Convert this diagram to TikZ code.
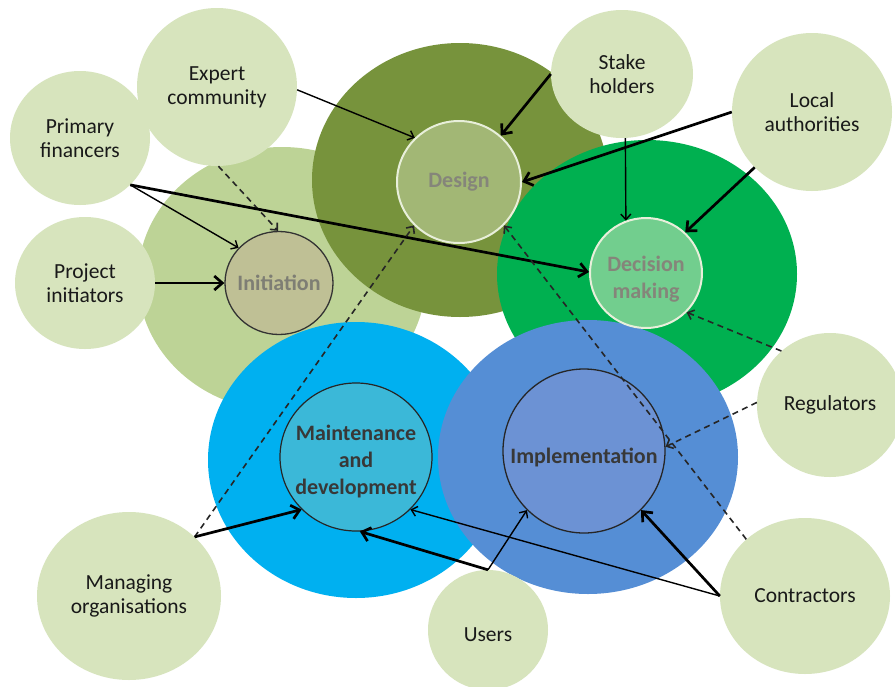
\documentclass[tikz,border=0pt]{standalone}
\usepackage{fontspec}
\setmainfont{Carlito}
\usetikzlibrary{arrows.meta,shapes.geometric}
\definecolor{outerc}{HTML}{D7E4BD}
\definecolor{initbig}{HTML}{BDD396}
\definecolor{designbig}{HTML}{77933C}
\definecolor{decbig}{HTML}{00B050}
\definecolor{maintbig}{HTML}{00B0F0}
\definecolor{implbig}{HTML}{558ED5}
\definecolor{initsm}{HTML}{BFC095}
\definecolor{designsm}{HTML}{A2B775}
\definecolor{decsm}{HTML}{72CE8E}
\definecolor{maintsm}{HTML}{3BB8D8}
\definecolor{implsm}{HTML}{6C92D4}
\definecolor{palerim}{HTML}{E8EFDA}
\definecolor{graytext}{HTML}{85857A}
\begin{document}
\begin{tikzpicture}[x=1pt,y=-1pt,
  blob/.style={ellipse, inner sep=0pt, draw=none},
  outer/.style={blob, fill=outerc, align=center, text=black!90,
    font=\fontsize{21.5}{24}\selectfont},
  outertxt/.style={align=center, inner sep=0pt, text=black!90,
    font=\fontsize{21.5}{24}\selectfont},
  innertxt/.style={align=center, inner sep=0pt, font=\bfseries\fontsize{22}{27}\selectfont},
  thickarr/.style={line width=2.7pt, -{Straight Barb[length=8pt,width=14pt]}},
  thinarr/.style={line width=1.4pt, -{Straight Barb[length=5.5pt,width=10pt]}},
  dasharr/.style={line width=1.6pt, black!85, dash pattern=on 6pt off 4.5pt, -{Straight Barb[length=5.5pt,width=10pt]}}
]
\useasboundingbox (0,0) rectangle (895,686);
\fill[white] (0,0) rectangle (895,686);

% big circles
\node[blob, fill=initbig, minimum width=288pt, minimum height=264pt] (initB) at (282,279) {};
\node[blob, fill=designbig, minimum width=296pt, minimum height=274pt] (designB) at (460,180) {};
\node[blob, fill=decbig, minimum width=300pt, minimum height=268pt] (decB) at (647,274) {};
\node[blob, fill=maintbig, minimum width=296pt, minimum height=276pt] (maintB) at (356,460) {};
\node[blob, fill=implbig, minimum width=300pt, minimum height=274pt] (implB) at (588,457) {};

% outer stakeholder circles
\node[outer, minimum width=140pt, minimum height=134pt] (prim) at (80,138) {Primary\\financers};
\node[outer, minimum width=160pt, minimum height=158pt] (expert) at (217,87) {Expert\\community};
\node[outer, minimum width=140pt, minimum height=132pt] (proj) at (85,283) {Project\\initiators};
\node[outer, minimum width=142pt, minimum height=128pt] (stake) at (622,74) {Stake\\holders};
\node[outer, minimum width=160pt, minimum height=158pt] (local) at (812,112) {Local\\authorities};
\node[outer, minimum width=146pt, minimum height=144pt] (reg) at (830,405) {Regulators};
\node[outer, minimum width=170pt, minimum height=156pt] (contr) at (805,596) {Contractors};
\node[outer, minimum width=120pt, minimum height=120pt] (users) at (488,630) {};
\node[outertxt] (usersT) at (488,635) {Users};
\node[outer, minimum width=184pt, minimum height=168pt] (manag) at (129,596) {Managing\\organisations};

% inner phase circles
\node[blob, fill=initsm, draw=black!80, line width=1.3pt, minimum width=108pt, minimum height=103pt] (init) at (279,283) {};
\node[blob, fill=designsm, draw=palerim, line width=2pt, minimum width=124pt, minimum height=122pt] (design) at (459,182) {};
\node[blob, fill=decsm, draw=palerim, line width=2pt, minimum width=112pt, minimum height=110pt] (dec) at (646,273) {};
\node[blob, fill=maintsm, draw=black!85, line width=1.2pt, minimum width=152pt, minimum height=148pt] (maint) at (356,457) {};
\node[blob, fill=implsm, draw=black!85, line width=1.3pt, minimum width=162pt, minimum height=164pt] (impl) at (584,451) {};

% connectors
\draw[thinarr] (expert.-2) -- (design.135);
\draw[dasharr] (expert.-89) -- (init.91);
\draw[thinarr] (prim.-43) -- (init.139);
\draw[thickarr] (prim.-43) -- (dec.179);
\draw[thickarr] (proj.east) -- (init.west);
\draw[dasharr] (manag.42) -- (design.224);
\draw[thickarr] (manag.42) -- (maint.224);
\draw[thickarr] (stake.180) -- (design.48);
\draw[thinarr] (stake.-87) -- (dec.111);
\draw[thickarr] (local.180) -- (design.0);
\draw[thickarr] (local.224) -- (dec.46);
\draw[dasharr] (reg.132) -- (dec.-44);
\draw[dasharr] (reg.178) -- (impl.3);
\draw[dasharr] (contr.136) -- (design.-44);
\draw[thickarr] (contr.west) -- (impl.-46);
\draw[thinarr] (contr.west) -- (maint.-44);
\draw[thickarr] (users.north) -- (maint.-87);
\draw[thinarr] (users.north) -- (impl.226);

% phase labels
\node[innertxt, text=graytext!95!black] (initT) at (279,283) {Initiation};
\node[innertxt, text=graytext] (designT) at (459,182) {Design};
\node[innertxt, text=graytext] (decT) at (646,279) {Decision\\making};
\node[innertxt, text=black!78] (maintT) at (356,462) {Maintenance\\and\\development};
\node[innertxt, text=black!78] (implT) at (584,457) {Implementation};
\end{tikzpicture}
\end{document}
